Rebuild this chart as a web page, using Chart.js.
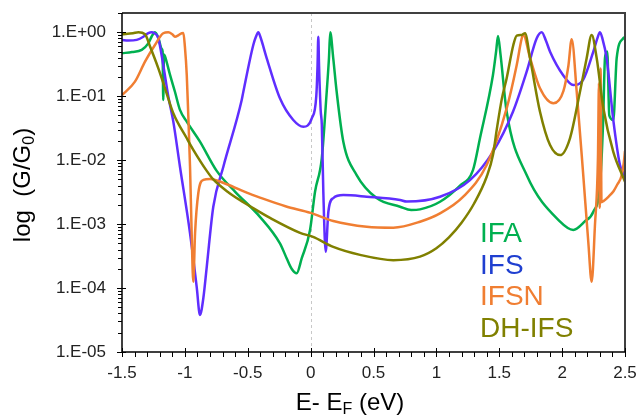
<!DOCTYPE html>
<html><head><meta charset="utf-8">
<script src="https://cdn.jsdelivr.net/npm/chart.js@4/dist/chart.umd.min.js"></script>
<style>html,body{margin:0;padding:0;background:#fff}</style>
</head><body>
<canvas id="c" width="639" height="420"></canvas>
<script>
const seriesNames = ['IFA', 'IFS', 'IFSN', 'DH-IFS'];

const ifaX = [-1.5,-1.42,-1.343,-1.291,-1.265,-1.238,-1.211,-1.184,-1.177,-1.172,-1.166,-1.158,-1.118,-1.079,-1.039,-0.985,-0.88,-0.747,-0.6,-0.403,-0.244,-0.19,-0.151,-0.111,-0.071,-0.005,0.035,0.089,0.128,0.146,0.156,0.18,0.207,0.26,0.366,0.525,0.711,0.8,0.87,1.029,1.188,1.291,1.347,1.45,1.475,1.49,1.51,1.559,1.718,1.984,2.089,2.18,2.248,2.301,2.325,2.341,2.359,2.375,2.407,2.434,2.486,2.5];
const ifaY = [0.47,0.49,0.53,0.67,0.85,1.0,0.82,0.55,0.5,0.087,0.45,0.42,0.215,0.1175,0.061,0.04,0.0195,0.0068,0.0032,0.0013,0.0005,0.00029,0.0002,0.00017,0.00029,0.0008,0.0032,0.0108,0.1175,0.4,1.0,0.39,0.1175,0.0194,0.00585,0.00255,0.00187,0.00166,0.0017,0.00224,0.004,0.007,0.0222,0.215,0.5,0.87,0.45,0.0572,0.00585,0.00109,0.00081,0.0011,0.00156,0.0041,0.0354,0.396,0.5,0.05,0.0424,0.396,0.805,0.84];

const ifsX = [-1.5,-1.45,-1.383,-1.33,-1.291,-1.264,-1.245,-1.211,-1.172,-1.132,-1.092,-1.039,-0.959,-0.906,-0.88,-0.853,-0.826,-0.774,-0.694,-0.548,-0.535,-0.456,-0.435,-0.416,-0.4,-0.349,-0.244,-0.138,-0.058,0.009,0.045,0.055,0.061,0.067,0.08,0.089,0.101,0.12,0.141,0.18,0.26,0.446,0.711,0.764,1.029,1.267,1.45,1.609,1.718,1.798,1.838,1.87,1.904,2.007,2.089,2.166,2.248,2.28,2.301,2.32,2.354,2.407,2.46,2.486,2.5];
const ifsY = [0.76,0.74,0.76,0.85,0.97,1.0,0.97,0.805,0.308,0.1,0.04,0.0079,0.00072,0.000104,0.000038,0.00007,0.000215,0.00187,0.0079,0.0872,0.1175,0.633,0.85,1.0,0.85,0.392,0.0927,0.0424,0.0333,0.045,0.1,0.3,0.85,0.3,0.06,0.0354,0.0032,0.00037,0.00156,0.00255,0.00284,0.00268,0.00238,0.00225,0.00268,0.00488,0.0135,0.0572,0.242,0.805,1.0,0.75,0.497,0.215,0.15,0.179,0.497,0.8,1.0,0.8,0.392,0.0424,0.0084,0.0063,0.0055];

const ifsnX = [-1.5,-1.397,-1.317,-1.238,-1.172,-1.132,-1.1,-1.079,-1.05,-1.025,-1.012,-1.0,-0.985,-0.973,-0.959,-0.946,-0.933,-0.919,-0.893,-0.853,-0.8,-0.667,-0.508,-0.403,-0.2,0.0,0.18,0.446,0.658,0.87,1.029,1.214,1.4,1.559,1.639,1.679,1.691,1.745,1.824,1.931,2.01,2.05,2.076,2.116,2.168,2.208,2.235,2.261,2.285,2.293,2.299,2.306,2.313,2.33,2.37,2.41,2.44,2.47,2.49,2.5];
const ifsnY = [0.104,0.169,0.347,0.633,0.965,1.0,0.93,0.853,0.9,0.965,0.97,0.6,0.215,0.0508,0.0079,0.00072,0.000125,0.00072,0.00306,0.0049,0.00506,0.0042,0.0031,0.0026,0.0019,0.0015,0.00112,0.00091,0.00088,0.00109,0.00147,0.00268,0.0084,0.0647,0.308,0.805,0.91,0.396,0.133,0.0774,0.12,0.3,0.78,0.1175,0.00585,0.00053,0.000125,0.00096,0.011,0.16,0.0018,0.27,0.0022,0.0023,0.0027,0.0033,0.0042,0.0055,0.009,0.014];

const dhX = [-1.5,-1.4125,-1.37,-1.317,-1.277,-1.211,-1.158,-1.092,-0.985,-0.933,-0.826,-0.774,-0.65,-0.535,-0.482,-0.323,-0.084,0.019,0.18,0.393,0.658,0.87,1.0,1.1,1.2,1.3,1.4,1.45,1.48,1.52,1.559,1.612,1.639,1.679,1.705,1.745,1.824,1.904,1.984,2.063,2.142,2.195,2.235,2.275,2.328,2.407,2.5];
const dhY = [0.93,0.965,1.0,0.93,0.6,0.273,0.133,0.054,0.022,0.0145,0.0068,0.005,0.0031,0.0022,0.0019,0.00125,0.00073,0.00063,0.00044,0.00033,0.000273,0.00031,0.00042,0.00062,0.00105,0.0021,0.0055,0.012,0.03,0.09,0.191,0.633,0.885,0.908,0.965,0.392,0.0572,0.0172,0.012,0.0222,0.1175,0.392,0.908,0.392,0.0647,0.0135,0.0046];

const xTickValues = [-1.5,-1,-0.5,0,0.5,1,1.5,2,2.5];
const xTickLabels = ['-1.5','-1','-0.5','0','0.5','1','1.5','2','2.5'];
const yTickValues = [1e-5,1e-4,1e-3,1e-2,1e-1,1];
const yTickLabels = ['1.E-05','1.E-04','1.E-03','1.E-02','1.E-01','1.E+00'];

const lineColors = ['#00B050', '#5F2EFF', '#F07E32', '#808000'];
const legendColors = ['#00B050', '#1F3FD0', '#F07E32', '#808000'];
const FONT = "'Liberation Sans', Arial, sans-serif";

function pts(xs, ys) { return xs.map((x, i) => ({x: x, y: ys[i]})); }
const allX = [ifaX, ifsX, ifsnX, dhX];
const allY = [ifaY, ifsY, ifsnY, dhY];

const datasets = seriesNames.map((n, i) => ({
  label: n,
  data: pts(allX[i], allY[i]),
  borderColor: lineColors[i],
  backgroundColor: lineColors[i],
  borderWidth: 2.5,
  pointRadius: 0,
  cubicInterpolationMode: 'monotone',
  fill: false,
  order: 4 - i
}));

const decor = {
  id: 'decor',
  beforeDatasetsDraw(chart) {
    const ctx = chart.ctx, xs = chart.scales.x, a = chart.chartArea;
    const x0 = xs.getPixelForValue(0);
    ctx.save();
    ctx.strokeStyle = '#C8C8C8';
    ctx.lineWidth = 1;
    ctx.setLineDash([3, 3]);
    ctx.beginPath();
    ctx.moveTo(Math.round(x0) + 0.5, a.top);
    ctx.lineTo(Math.round(x0) + 0.5, a.bottom);
    ctx.stroke();
    ctx.restore();
  },
  afterDatasetsDraw(chart) {
    const ctx = chart.ctx, xs = chart.scales.x, ys = chart.scales.y, a = chart.chartArea;
    ctx.save();
    ctx.strokeStyle = '#404040';
    ctx.lineWidth = 2;
    ctx.beginPath();
    ctx.moveTo(a.left, a.top); ctx.lineTo(a.right, a.top); ctx.lineTo(a.right, a.bottom);
    ctx.stroke();
    ctx.strokeStyle = '#000';
    ctx.lineWidth = 1.5;
    ctx.beginPath();
    ctx.moveTo(a.left, a.top); ctx.lineTo(a.left, a.bottom); ctx.lineTo(a.right, a.bottom);
    ctx.stroke();
    ctx.lineWidth = 1;
    ctx.beginPath();
    for (let v = -15; v <= 25; v++) {
      const px = Math.round(xs.getPixelForValue(v / 10)) + 0.5;
      if (v % 5 === 0) { ctx.moveTo(px, a.bottom - 4); ctx.lineTo(px, a.bottom + 5); }
      else { ctx.moveTo(px, a.bottom); ctx.lineTo(px, a.bottom + 5); }
    }
    for (let e = -5; e <= 0; e++) {
      for (let m = 1; m <= 9; m++) {
        const v = m * Math.pow(10, e);
        if (v > 2) continue;
        const py = Math.round(ys.getPixelForValue(v)) + 0.5;
        if (m === 1) { ctx.moveTo(a.left - 5, py); ctx.lineTo(a.left + 4, py); }
        else { ctx.moveTo(a.left - 4, py); ctx.lineTo(a.left, py); }
      }
    }
    ctx.stroke();

    ctx.textAlign = 'left';
    ctx.textBaseline = 'alphabetic';
    ctx.font = '28px ' + FONT;
    seriesNames.forEach((n, i) => {
      ctx.fillStyle = legendColors[i];
      ctx.fillText(n, 480, 242 + i * 31.7);
    });

    ctx.fillStyle = '#000';
    const big = '24px ' + FONT, small = '16px ' + FONT;
    const s1 = 'E- E', s2 = 'F', s3 = ' (eV)';
    ctx.font = big; const w1 = ctx.measureText(s1).width, w3 = ctx.measureText(s3).width;
    ctx.font = small; const w2 = ctx.measureText(s2).width;
    let tx = 350 - (w1 + w2 + w3) / 2;
    const ty = 410;
    ctx.font = big; ctx.fillText(s1, tx, ty); tx += w1;
    ctx.font = small; ctx.fillText(s2, tx, ty + 4); tx += w2;
    ctx.font = big; ctx.fillText(s3, tx, ty);
    ctx.translate(30, 185);
    ctx.rotate(-Math.PI / 2);
    const t1 = 'log  (G/G', t2 = '0', t3 = ')';
    ctx.font = big; const u1 = ctx.measureText(t1).width, u3 = ctx.measureText(t3).width;
    ctx.font = small; const u2 = ctx.measureText(t2).width;
    let yx = -(u1 + u2 + u3) / 2;
    ctx.font = big; ctx.fillText(t1, yx, 0); yx += u1;
    ctx.font = small; ctx.fillText(t2, yx, 4); yx += u2;
    ctx.font = big; ctx.fillText(t3, yx, 0);
    ctx.restore();
  }
};

function zeroPad(s) { s.paddingTop = 0; s.paddingBottom = 0; s.paddingLeft = 0; s.paddingRight = 0; }

new Chart(document.getElementById('c'), {
  type: 'line',
  data: { datasets: datasets },
  options: {
    responsive: false,
    animation: false,
    layout: { padding: { left: 0, top: 13, right: 14, bottom: 0 } },
    plugins: { legend: { display: false }, tooltip: { enabled: false } },
    scales: {
      x: {
        type: 'linear', min: -1.5, max: 2.5,
        afterFit: s => { s.height = 68; zeroPad(s); },
        afterBuildTicks: s => { s.ticks = xTickValues.map(v => ({ value: v })); },
        grid: { display: false, drawTicks: false },
        border: { display: false },
        ticks: {
          padding: 11,
          color: '#222',
          font: { family: FONT, size: 17 },
          maxRotation: 0,
          callback: (v) => { const i = xTickValues.indexOf(v); return i >= 0 ? xTickLabels[i] : ''; }
        }
      },
      y: {
        type: 'logarithmic', min: 1e-5, max: 2,
        afterFit: s => { s.width = 122; zeroPad(s); },
        afterBuildTicks: s => { s.ticks = yTickValues.map(v => ({ value: v })); },
        grid: { display: false, drawTicks: false },
        border: { display: false },
        ticks: {
          padding: 16,
          color: '#222',
          font: { family: FONT, size: 17 },
          callback: (v) => { const i = yTickValues.findIndex(t => Math.abs(t - v) / t < 1e-6); return i >= 0 ? yTickLabels[i] : ''; }
        }
      }
    }
  },
  plugins: [decor]
});
</script>
</body></html>
